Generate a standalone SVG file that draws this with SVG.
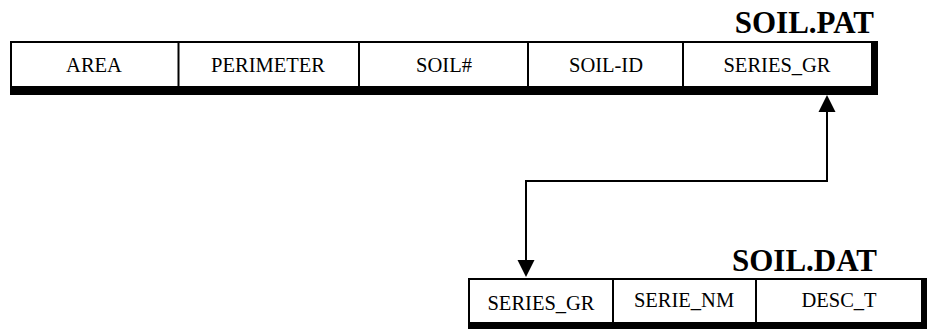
<svg xmlns="http://www.w3.org/2000/svg" width="934" height="329" viewBox="0 0 934 329">
<style>
.frame{fill:#000}
.cell{fill:#fff}
.div{stroke:#000;stroke-width:2}
.fld{font-family:"Liberation Serif","Times New Roman",serif;font-size:20.5px;fill:#000;text-anchor:middle}
.title{font-family:"Liberation Serif","Times New Roman",serif;font-size:31px;font-weight:bold;fill:#000;text-anchor:end}
.conn{fill:none;stroke:#000;stroke-width:2}
</style>
<defs>
<marker id="arr" markerUnits="userSpaceOnUse" viewBox="0 -9 18 18" refX="0" refY="0" markerWidth="18" markerHeight="18" orient="auto-start-reverse">
<path d="M0,-8.5 L17,0 L0,8.5 z" fill="#000"/>
</marker>
</defs>
<rect width="934" height="329" fill="#fff"/>
<g id="soil-pat">
<text class="title" x="874" y="33">SOIL.PAT</text>
<rect class="frame" x="10" y="41" width="868" height="54"/>
<rect class="cell" x="12" y="43" width="859" height="43"/>
<line class="div" x1="178.5" y1="42" x2="178.5" y2="87"/>
<line class="div" x1="359" y1="42" x2="359" y2="87"/>
<line class="div" x1="528" y1="42" x2="528" y2="87"/>
<line class="div" x1="683" y1="42" x2="683" y2="87"/>
<text class="fld" x="94" y="72">AREA</text>
<text class="fld" x="268" y="72">PERIMETER</text>
<text class="fld" x="444" y="72">SOIL#</text>
<text class="fld" x="606" y="72">SOIL-ID</text>
<text class="fld" x="777" y="72">SERIES_GR</text>
</g>
<g id="soil-dat">
<text class="title" x="877" y="271">SOIL.DAT</text>
<rect class="frame" x="468" y="278" width="459" height="51"/>
<rect class="cell" x="470" y="280" width="451" height="42"/>
<line class="div" x1="613" y1="279" x2="613" y2="323"/>
<line class="div" x1="756" y1="279" x2="756" y2="323"/>
<text class="fld" x="541" y="310">SERIES_GR</text>
<text class="fld" x="684" y="307">SERIE_NM</text>
<text class="fld" x="839" y="307">DESC_T</text>
</g>
<g id="connectors">
<path class="conn" d="M827,112 V181 H526 V260" marker-start="url(#arr)" marker-end="url(#arr)"/>
</g>
</svg>
